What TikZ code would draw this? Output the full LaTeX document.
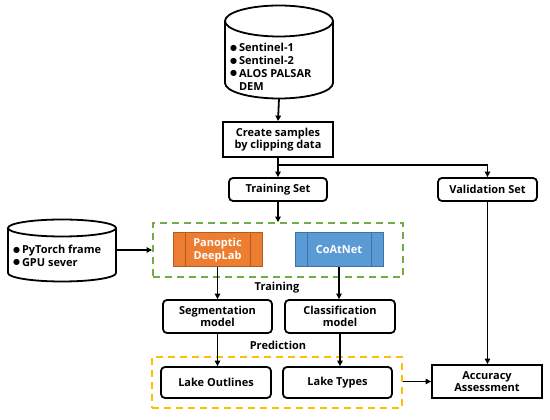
\documentclass[tikz,border=0pt]{standalone}
\usepackage{fontspec}
\setmainfont{Open Sans}
\newfontfamily\lksym{DejaVu Sans}
\usepackage{xcolor}
\definecolor{lakeOrange}{HTML}{ED7D31}
\definecolor{lakeOrangeDk}{HTML}{B25C22}
\definecolor{lakeBlue}{HTML}{5B9BD5}
\definecolor{lakeBlueDk}{HTML}{3F72A6}
\definecolor{lakeGreen}{HTML}{70AD47}
\definecolor{lakeYellow}{HTML}{FFC000}
\definecolor{lakeInk}{HTML}{000000}
\usetikzlibrary{positioning, arrows.meta, calc}
\newcommand{\lkdot}{\raisebox{1.6pt}{\lksym\fontsize{8}{8}\selectfont ●}\,}

\begin{document}
\begin{tikzpicture}[
  x=1pt, y=1pt,
  font=\fontsize{11}{12.5}\selectfont\bfseries,
  box/.style = {rectangle, draw=lakeInk, line width=1.8pt, rounded corners=4pt,
                text centered, align=center, inner sep=1pt, fill=white},
  sqbox/.style = {box, rounded corners=0pt},
  netbox/.style = {rectangle, line width=1pt, text=white, align=center,
                   minimum width=89pt, minimum height=34pt, inner sep=1pt,
                   path picture={
                     \draw[line width=1pt, #1]
                       ([xshift=12pt]path picture bounding box.north west) --
                       ([xshift=12pt]path picture bounding box.south west)
                       ([xshift=-12pt]path picture bounding box.north east) --
                       ([xshift=-12pt]path picture bounding box.south east);}},
  cyl/.style = {draw=lakeInk, line width=1.8pt, fill=white},
  listtxt/.style = {align=left, inner sep=0pt, font=\fontsize{11}{12.8}\selectfont\bfseries},
  arrow/.style = {-{Triangle[length=5.5pt, width=5.5pt]}, line width=1.8pt, color=lakeInk},
  line/.style = {line width=1.8pt, color=lakeInk},
  group/.style = {rectangle, line width=1.9pt, dash pattern=on 7pt off 5pt, inner sep=0pt},
  label/.style = {inner sep=1pt},
]
\useasboundingbox (0,0) rectangle (550,420);

% Data sources (cylinder)
\draw[cyl] (225,399) -- (225,337)
  arc[start angle=180, end angle=360, x radius=54, y radius=15.5] -- (333,399);
\draw[cyl] (279,399) ellipse [x radius=54, y radius=15.5];
\coordinate (srcb) at (279,321.5);
\node[listtxt, anchor=west] (src) at (230,353)
  {\lkdot Sentinel-1\\\lkdot Sentinel-2\\\lkdot ALOS PALSAR\\\phantom{\lkdot}DEM};

% Sample creation and split
\node[sqbox, minimum width=110pt, minimum height=35pt] (create) at (278,280.5)
  {Create samples\\by clipping data};
\node[box, minimum width=98pt, minimum height=23pt] (train) at (278,230.5) {Training Set};
\node[box, minimum width=99pt, minimum height=23pt] (valid) at (487.5,230.5) {Validation Set};
\coordinate (split) at (278,255);

% Environment (cylinder)
\draw[cyl] (8,192) -- (8,147)
  arc[start angle=180, end angle=360, x radius=54, y radius=8.5] -- (116,192);
\draw[cyl] (62,192) ellipse [x radius=54, y radius=8.5];
\coordinate (envr) at (116,170);
\node[listtxt, anchor=west] (env) at (13,164) {\lkdot PyTorch frame\\\lkdot GPU sever};

% Networks
\node[group, draw=lakeGreen, minimum width=250pt, minimum height=54pt] (grp) at (278,170) {};
\node[netbox=lakeOrangeDk, fill=lakeOrange, draw=lakeOrangeDk] (pan) at (217.5,170)
  {Panoptic\\DeepLab};
\node[netbox=lakeBlueDk, fill=lakeBlue, draw=lakeBlueDk, minimum width=88pt] (coat) at (339,170)
  {CoAtNet};
\node[label] (lbltrain) at (277,132) {Training};

% Models
\node[box, minimum width=109pt, minimum height=33pt] (seg) at (217.5,103.5)
  {Segmentation\\model};
\node[box, minimum width=110pt, minimum height=33pt] (cls) at (340,103.5)
  {Classification\\model};
\node[label] (lblpred) at (278,75) {Prediction};

% Results
\node[group, draw=lakeYellow, minimum width=250pt, minimum height=51pt] (res) at (277,37.5) {};
\node[box, minimum width=110pt, minimum height=31pt] (out) at (216,37.5) {Lake Outlines};
\node[box, minimum width=109pt, minimum height=31pt] (typ) at (337.5,37.5) {Lake Types};
\node[sqbox, minimum width=110pt, minimum height=33pt] (acc) at (487,38.5)
  {Accuracy\\Assessment};

% Arrows
\draw[arrow] (srcb) -- (create.north);
\draw[line] (create.south) -- (split);
\draw[arrow] (split) -- (train.north);
\draw[arrow] (split) -| (valid.north);
\draw[arrow] (train.south) -- (train.south |- grp.north);
\draw[arrow] (envr) -- (envr -| grp.west);
\draw[arrow] (pan.south) -- (pan.south |- seg.north);
\draw[arrow] (coat.south) -- (coat.south |- cls.north);
\draw[arrow] (seg.south) -- (seg.south |- out.north);
\draw[arrow] (cls.south) -- (cls.south |- typ.north);
\draw[arrow] (res.east |- acc.west) -- (acc.west);
\draw[arrow] (valid.south) -- (valid.south |- acc.north);

\end{tikzpicture}
\end{document}
